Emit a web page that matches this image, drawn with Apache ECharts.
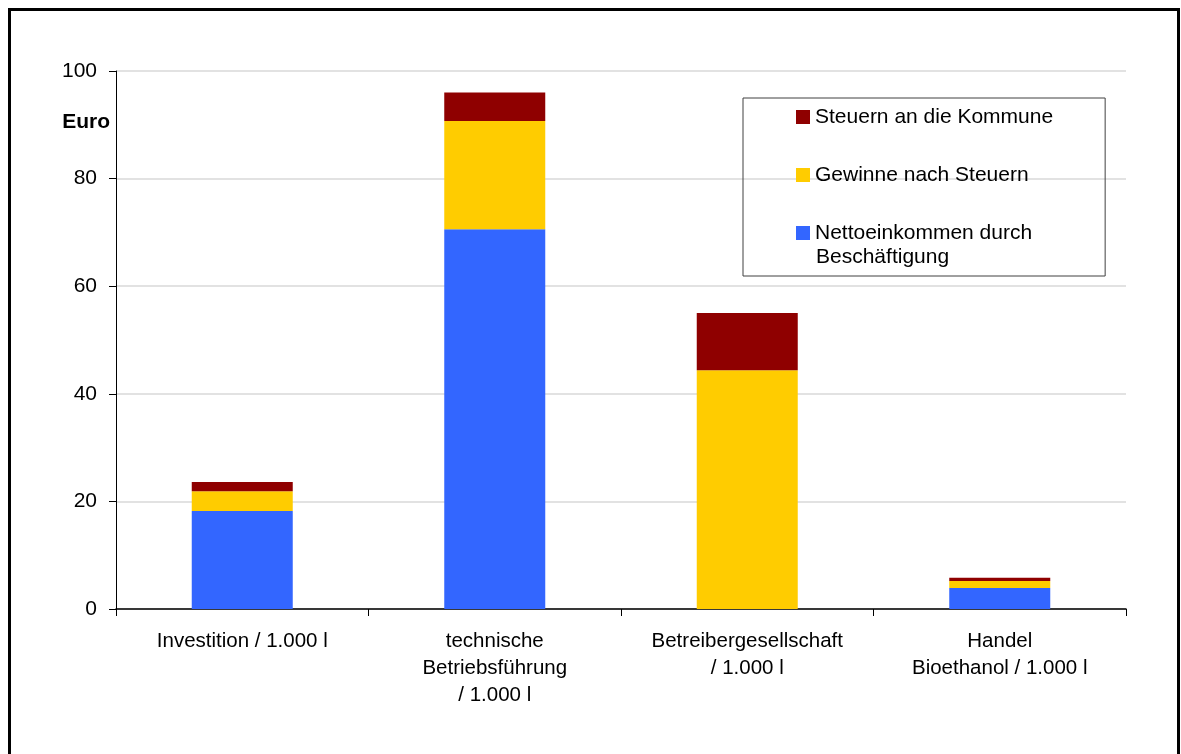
<!DOCTYPE html>
<html>
<head>
<meta charset="utf-8">
<script src="https://cdn.jsdelivr.net/npm/echarts@6/dist/echarts.min.js"></script>
<style>
html,body{margin:0;padding:0;background:#fff;}
#chart{width:1181px;height:754px;}
</style>
</head>
<body>
<div id="chart"></div>
<script>
const categories = [
  "Investition / 1.000 l",
  "technische\nBetriebsführung\n/ 1.000 l",
  "Betreibergesellschaft\n/ 1.000 l",
  "Handel\nBioethanol / 1.000 l"
];
const seriesNames = ["Steuern an die Kommune", "Gewinne nach Steuern", "Nettoeinkommen durch Beschäftigung"];
const nettoeinkommen = [18.2, 70.6, 0, 3.9];
const gewinne = [3.7, 20.1, 44.4, 1.3];
const steuern = [1.7, 5.3, 10.6, 0.6];
const yTicks = [0, 20, 40, 60, 80, 100];

const FONT = 'Liberation Sans, Arial, sans-serif';
const chart = echarts.init(document.getElementById('chart'), null, {renderer: 'canvas'});

chart.setOption({
  backgroundColor: '#ffffff',
  animation: false,
  grid: {left: 116, right: 55, top: 71, bottom: 145},
  legend: {
    orient: 'vertical',
    left: 743,
    top: 98,
    data: [seriesNames[0], seriesNames[1], seriesNames[2]],
    itemWidth: 14,
    itemHeight: 14,
    itemGap: 36,
    padding: [8, 52, 32, 53],
    borderColor: '#404040',
    borderWidth: 1,
    icon: 'rect',
    selectedMode: false,
    formatter: function (n) { return n === seriesNames[2] ? 'Nettoeinkommen durch' : n; },
    textStyle: {fontFamily: FONT, fontSize: 21, lineHeight: 22, color: '#000'}
  },
  graphic: [
    {type: 'rect', left: 7, top: 7, silent: true,
     shape: {width: 1169, height: 780},
     style: {fill: 'none', stroke: '#000', lineWidth: 3}},
    {type: 'text', left: 816, top: 247, silent: true,
     style: {text: 'Beschäftigung', font: '21px ' + FONT, fill: '#000'}},
    {type: 'text', right: 1181 - 110, top: 112, silent: true,
     style: {text: 'Euro', font: 'bold 21px ' + FONT, fill: '#000', textAlign: 'right'}}
  ],
  xAxis: {
    type: 'category',
    data: categories,
    axisLine: {show: true, lineStyle: {color: '#000', width: 1.5}},
    axisTick: {show: true, length: 7, interval: 0, alignWithLabel: false, lineStyle: {color: '#000'}},
    axisLabel: {interval: 0, margin: 19, fontFamily: FONT, fontSize: 20.5, lineHeight: 27, color: '#000', align: 'center'},
    splitLine: {show: false}
  },
  yAxis: {
    type: 'value',
    min: yTicks[0],
    max: yTicks[yTicks.length - 1],
    interval: yTicks[1] - yTicks[0],
    axisLine: {show: true, lineStyle: {color: '#000', width: 1}},
    axisTick: {show: true, length: 7, lineStyle: {color: '#000'}},
    axisLabel: {margin: 19, fontFamily: FONT, fontSize: 21, color: '#000'},
    splitLine: {show: true, lineStyle: {color: '#d9d9d9', width: 1.5}}
  },
  series: [
    {name: seriesNames[2], type: 'bar', stack: 'a', data: nettoeinkommen, barWidth: 101,
     itemStyle: {color: '#3366FF'}},
    {name: seriesNames[1], type: 'bar', stack: 'a', data: gewinne, barWidth: 101,
     itemStyle: {color: '#FFCC00'}},
    {name: seriesNames[0], type: 'bar', stack: 'a', data: steuern, barWidth: 101,
     itemStyle: {color: '#8F0000'}}
  ]
});
</script>
</body>
</html>
